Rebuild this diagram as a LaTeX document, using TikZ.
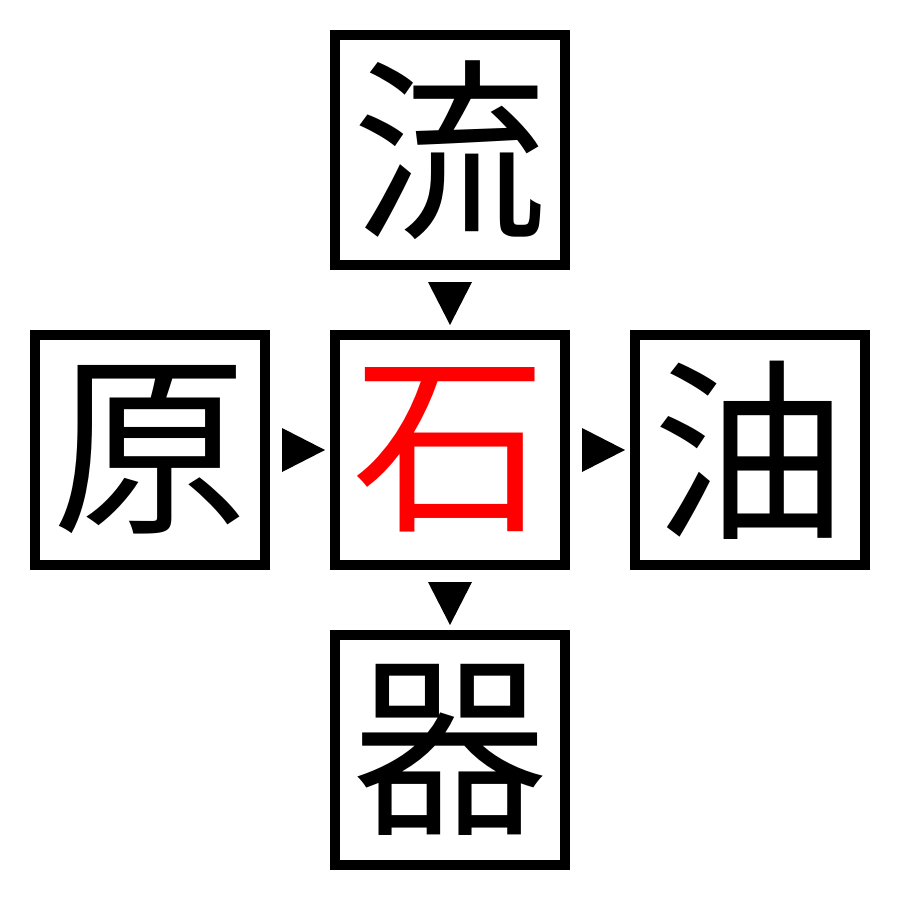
\documentclass[tikz,border=0pt]{standalone}
\usepackage{fontspec}
\newfontfamily\cjk{Noto Sans CJK JP}
\begin{document}
\begin{tikzpicture}[x=1pt,y=-1pt,
  cell/.style={draw=black,line width=10pt,minimum size=230pt,inner sep=0pt,font=\cjk\fontsize{195}{195}\selectfont},
  tri/.style={fill=black}]
\useasboundingbox (0,0) rectangle (900,900);
\node[cell] (top) at (450,150) {流};
\node[cell] (left) at (150,450) {原};
\node[cell,text=red] (mid) at (450,450) {石};
\node[cell] (right) at (750,450) {油};
\node[cell] (bot) at (450,750) {器};
\coordinate (t1) at (282,428);
\coordinate (t2) at (282,472);
\coordinate (t3) at (325,450);
\fill[tri] (t1) -- (t2) -- (t3) -- cycle;
\coordinate (r1) at (582,428);
\coordinate (r2) at (582,472);
\coordinate (r3) at (625,450);
\fill[tri] (r1) -- (r2) -- (r3) -- cycle;
\coordinate (d1) at (428,282);
\coordinate (d2) at (472,282);
\coordinate (d3) at (450,325);
\fill[tri] (d1) -- (d2) -- (d3) -- cycle;
\coordinate (e1) at (428,582);
\coordinate (e2) at (472,582);
\coordinate (e3) at (450,625);
\fill[tri] (e1) -- (e2) -- (e3) -- cycle;
\end{tikzpicture}
\end{document}
